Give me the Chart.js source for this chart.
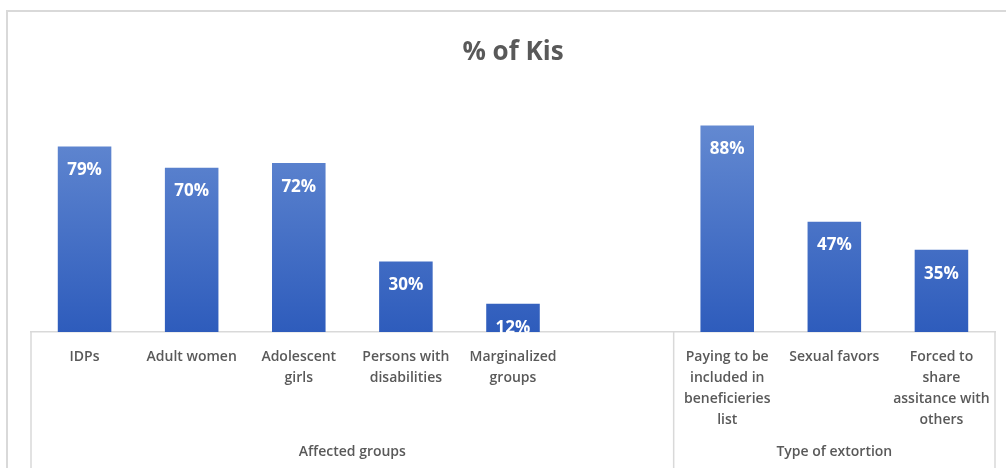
<!DOCTYPE html>
<html>
<head>
<meta charset="utf-8">
<script src="https://cdn.jsdelivr.net/npm/chart.js@4/dist/chart.umd.min.js"></script>
<style>
  html, body { margin: 0; padding: 0; background: #fff; }
  #wrap { position: relative; width: 1006px; height: 468px; }
</style>
</head>
<body>
<div id="wrap"><canvas id="kis" width="1006" height="468"></canvas></div>
<script>
// categories, one line per array entry; the blank slot separates the two groups
var categories = [
  ['IDPs'], ['Adult women'], ['Adolescent', 'girls'], ['Persons with', 'disabilities'],
  ['Marginalized', 'groups'], [''],
  ['Paying to be', 'included in', 'beneficieries', 'list'], ['Sexual favors'],
  ['Forced to', 'share', 'assitance with', 'others']
];
var kisValues = [79, 70, 72, 30, 12, null, 88, 47, 35];
var groupNames = ['Affected groups', 'Type of extortion'];
var groupSpans = [[0, 5], [6, 8]];   // first and last category index of each group

var FONT = '"Open Sans", "Liberation Sans", sans-serif';
var GREY = '#595959';
var LINE = '#d9d9d9';

function barFill(ctx) {
  var chart = ctx.chart, area = chart.chartArea;
  if (!area) return '#4472c4';
  var g = chart.ctx.createLinearGradient(0, area.top, 0, area.bottom);
  g.addColorStop(0, '#6a8fd4');
  g.addColorStop(1, '#2e5cbc');
  return g;
}

// value labels inside the top of each bar
var valueLabels = {
  id: 'valueLabels',
  afterDatasetsDraw: function (chart) {
    var ctx = chart.ctx;
    var meta = chart.getDatasetMeta(0);
    ctx.save();
    ctx.font = 'bold 17px ' + FONT;
    ctx.fillStyle = '#ffffff';
    ctx.textAlign = 'center';
    ctx.textBaseline = 'middle';
    meta.data.forEach(function (bar, i) {
      var v = kisValues[i];
      if (v == null) return;
      ctx.fillText(v + '%', bar.x, bar.y + 24);
    });
    ctx.restore();
  }
};

// outer frame, group dividers and group captions
var groupAxis = {
  id: 'groupAxis',
  beforeDraw: function (chart) {
    var ctx = chart.ctx;
    ctx.save();
    ctx.strokeStyle = LINE;
    ctx.lineWidth = 2;
    ctx.beginPath();
    ctx.moveTo(7, chart.height);
    ctx.lineTo(7, 11);
    ctx.lineTo(chart.width, 11);
    ctx.stroke();
    ctx.restore();
  },
  afterDraw: function (chart) {
    var ctx = chart.ctx, x = chart.scales.x, area = chart.chartArea;
    var half = (x.getPixelForValue(1) - x.getPixelForValue(0)) / 2;
    ctx.save();
    ctx.strokeStyle = LINE;
    ctx.lineWidth = 1.5;
    var edges = [x.getPixelForValue(0) - half];
    groupSpans.forEach(function (s) { edges.push(x.getPixelForValue(s[1]) + half); });
    ctx.beginPath();
    edges.forEach(function (px) {
      ctx.moveTo(px, area.bottom);
      ctx.lineTo(px, chart.height);
    });
    ctx.stroke();
    ctx.font = '600 14px ' + FONT;
    ctx.fillStyle = GREY;
    ctx.textAlign = 'center';
    ctx.textBaseline = 'middle';
    groupSpans.forEach(function (s, i) {
      var a = x.getPixelForValue(s[0]) - half, b = x.getPixelForValue(s[1]) + half;
      ctx.fillText(groupNames[i], (a + b) / 2, 452);
    });
    ctx.restore();
  }
};

new Chart(document.getElementById('kis'), {
  type: 'bar',
  data: {
    labels: categories,
    datasets: [{
      label: '% of Kis',
      data: kisValues,
      backgroundColor: barFill,
      barPercentage: 0.5,
      categoryPercentage: 1
    }]
  },
  options: {
    responsive: false,
    animation: false,
    layout: { padding: { left: 31, right: 11, top: 0, bottom: 0 } },
    plugins: {
      legend: { display: false },
      tooltip: { enabled: false },
      title: {
        display: true,
        text: '% of Kis',
        color: GREY,
        font: { family: FONT, size: 26, weight: 'bold' },
        padding: { top: 37, bottom: 29 }
      }
    },
    scales: {
      x: {
        grid: { display: false },
        border: { display: true, color: LINE, width: 1.5 },
        ticks: {
          color: GREY,
          font: { family: FONT, size: 14, weight: '600', lineHeight: 1.5 },
          autoSkip: false,
          maxRotation: 0,
          padding: 7
        },
        afterFit: function (scale) { scale.height = 136; }
      },
      y: {
        display: false,
        min: 0,
        max: 100
      }
    }
  },
  plugins: [valueLabels, groupAxis]
});
</script>
</body>
</html>
